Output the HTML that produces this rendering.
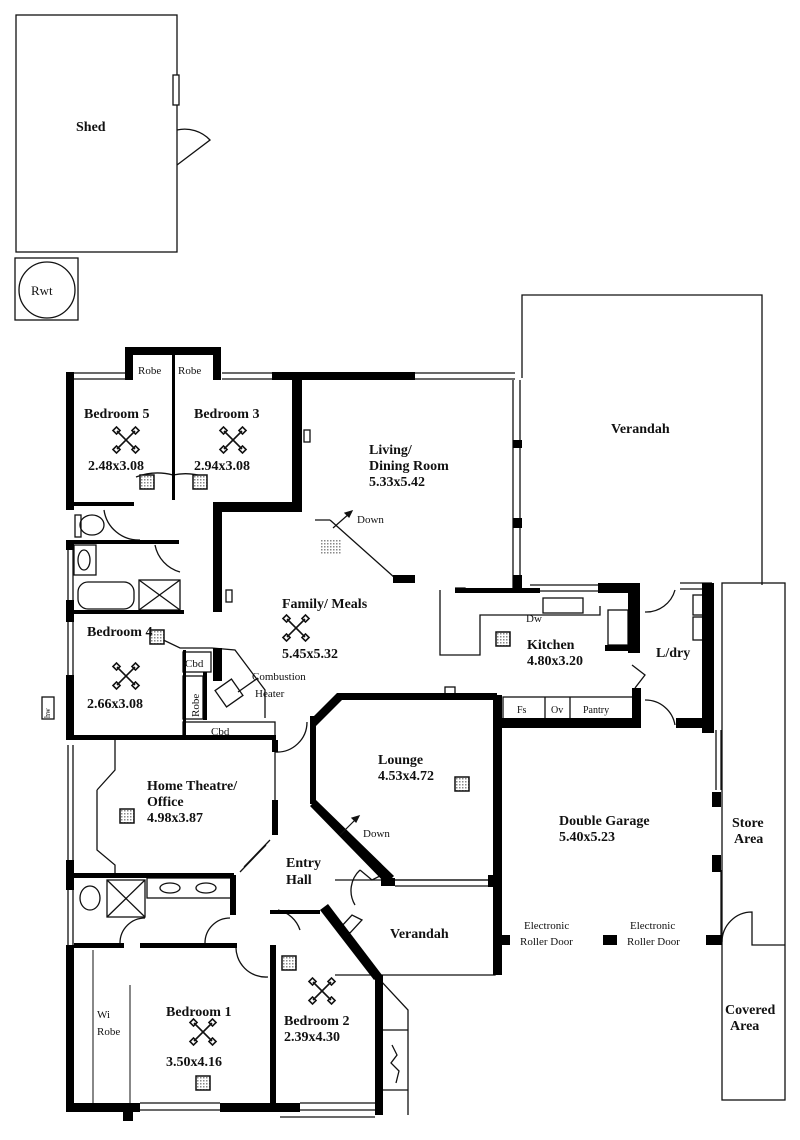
<!DOCTYPE html>
<html><head><meta charset="utf-8"><style>
html,body{margin:0;padding:0;background:#fff}
svg{display:block}
text{font-family:"Liberation Serif",serif;fill:#111}
.b{font-weight:bold;font-size:14px}
.s{font-size:11px}
</style></head><body>
<svg width="800" height="1140" viewBox="0 0 800 1140" xmlns="http://www.w3.org/2000/svg">
<defs>
<pattern id="h" width="3" height="3" patternUnits="userSpaceOnUse"><rect width="3" height="3" fill="#fff"/><rect width="1.5" height="1.5" fill="#888"/></pattern>
<g id="fan" stroke="#111" stroke-width="1.6" fill="none">
<line x1="-9" y1="-9" x2="9" y2="9"/><line x1="9" y1="-9" x2="-9" y2="9"/>
<rect x="-12" y="-12" width="5" height="5" transform="rotate(45 -9.5 -9.5)"/><rect x="7" y="-12" width="5" height="5" transform="rotate(45 9.5 -9.5)"/>
<rect x="-12" y="7" width="5" height="5" transform="rotate(45 -9.5 9.5)"/><rect x="7" y="7" width="5" height="5" transform="rotate(45 9.5 9.5)"/>
</g>
<g id="sq"><rect x="-7" y="-7" width="14" height="14" fill="url(#h)" stroke="#111" stroke-width="1.5"/></g>
</defs>
<g fill="none" stroke="#111" stroke-width="1.3">
<rect x="16" y="15" width="161" height="237"/>
<rect x="173" y="75" width="6" height="30" fill="#fff"/>
<path d="M177 130 A35 35 0 0 1 210 140 L177 165"/>
<rect x="15" y="258" width="63" height="62"/>
<circle cx="47" cy="290" r="28"/>
<path d="M522 378 V295 H762 V585"/>
<rect x="722" y="583" width="63" height="517"/>
<path d="M722 942 A30 30 0 0 1 752 912 V945 H785"/>
<path d="M380 980 L408 1010 V1115 M380 1030 H408 M380 1090 H408"/>
<path d="M392 1045 l5 10 -6 8 8 8 -3 12"/>
<path d="M440 590 V655 H480 V615 H600 V606 M455 588 H465 V590"/>
<rect x="543" y="598" width="40" height="15"/>
<rect x="608" y="610" width="20" height="35"/>
<rect x="693" y="595" width="19" height="20"/><rect x="693" y="617" width="19" height="23"/>
<path d="M645 612 A30 30 0 0 0 675 590"/>
<path d="M645 700 A30 30 0 0 1 675 725"/>
<path d="M632 665 L645 675 L635 688"/>
<path d="M315 520 L330 520 M330 520 L395 578"/>
<path d="M104 510 A35 35 0 0 0 140 540"/>
<path d="M155 545 A35 35 0 0 0 180 572"/>
<path d="M136 477 A60 60 0 0 1 173 475 A60 60 0 0 1 205 477"/>
<path d="M153 635 L180 648 L212 648 L235 650 L265 690 L265 718"/>
<path d="M275 752 A30 30 0 0 0 307 722"/>
<path d="M120 943 A25 25 0 0 1 145 918"/>
<path d="M205 943 A25 25 0 0 1 230 918"/>
<path d="M236 945 A30 30 0 0 0 268 977"/>
<path d="M278 910 A30 30 0 0 1 300 930"/>
<path d="M360 870 A28 28 0 0 0 355 905 M360 870 L372 880 L382 875"/>
<path d="M340 928 L352 915 L362 920 L350 933 Z"/>
<path d="M244 867 L270 840 M240 872 L266 845"/>
<path d="M97 790 L115 770 V740 M97 790 V850 L115 865 V875"/>
<path d="M93 950 V1103 M130 985 V1103" stroke-width="1"/>
<ellipse cx="92" cy="525" rx="12" ry="10"/>
<rect x="75" y="515" width="6" height="22"/>
<rect x="74" y="545" width="22" height="30"/><ellipse cx="84" cy="560" rx="6" ry="10"/>
<rect x="78" y="582" width="56" height="27" rx="10"/>
<rect x="139" y="580" width="41" height="30"/><path d="M139 580 L180 610 M180 580 L139 610"/>
<ellipse cx="90" cy="898" rx="10" ry="12"/>
<rect x="107" y="880" width="38" height="37"/><path d="M107 880 L145 917 M145 880 L107 917"/>
<rect x="147" y="878" width="85" height="20"/>
<ellipse cx="170" cy="888" rx="10" ry="5"/><ellipse cx="206" cy="888" rx="10" ry="5"/>
<rect x="183" y="652" width="28" height="20"/><rect x="183" y="676" width="20" height="43"/>
<rect x="183" y="722" width="92" height="15"/>
<rect x="219" y="683" width="20" height="20" transform="rotate(-35 229 693)"/>
<path d="M238 692 L258 678"/>
<rect x="503" y="697" width="134" height="22"/><path d="M545 697 V719 M570 697 V719"/>
<path d="M74 373 H125 M74 379 H125 M222 373 H272 M222 379 H272 M415 373 H515 M415 379 H515"/>
<path d="M513 380 V590 M520 380 V590" />
<path d="M530 585 H630 M530 591 H630 M680 583 H712 M680 589 H712"/>
<path d="M68 540 V740 M73 540 V740 M68 745 V1100 M73 745 V1100"/>
<path d="M716 730 V790 M721 730 V790 M721 870 V935"/>
<path d="M395 880 H495 M395 886 H495 M140 1103 H220 M140 1110 H220 M300 1103 H375 M300 1110 H375 M280 1117 H375"/>
<path d="M335 880 L495 880 V975 H335"/>
<path d="M275 752 V800"/>
<rect x="42" y="697" width="12" height="22"/>
<rect x="304" y="430" width="6" height="12"/><rect x="226" y="590" width="6" height="12"/>
<rect x="445" y="687" width="10" height="7"/>
</g>
<g fill="#000">
<rect x="66" y="372" width="8" height="138"/>
<rect x="66" y="540" width="8" height="10"/>
<rect x="66" y="600" width="8" height="22"/>
<rect x="66" y="675" width="8" height="65"/>
<rect x="66" y="860" width="8" height="30"/>
<rect x="66" y="945" width="8" height="167"/>
<rect x="125" y="347" width="96" height="8"/><rect x="125" y="347" width="8" height="33"/><rect x="213" y="347" width="8" height="33"/>
<rect x="172" y="355" width="3" height="145"/>
<rect x="272" y="372" width="143" height="8"/>
<rect x="292" y="380" width="10" height="125"/>
<rect x="213" y="502" width="89" height="10"/>
<rect x="74" y="502" width="60" height="4"/>
<rect x="213" y="502" width="9" height="110"/>
<rect x="74" y="540" width="105" height="4"/>
<rect x="74" y="610" width="110" height="4"/>
<rect x="393" y="575" width="22" height="8"/>
<rect x="513" y="440" width="9" height="8"/><rect x="513" y="518" width="9" height="10"/><rect x="513" y="575" width="9" height="15"/>
<rect x="455" y="588" width="85" height="5"/>
<rect x="598" y="583" width="40" height="10"/>
<rect x="628" y="583" width="12" height="70"/>
<rect x="605" y="645" width="35" height="6"/>
<rect x="702" y="583" width="12" height="150"/>
<rect x="632" y="688" width="9" height="40"/>
<rect x="493" y="718" width="148" height="10"/>
<rect x="676" y="718" width="38" height="10"/>
<rect x="213" y="648" width="9" height="33"/>
<rect x="203" y="672" width="4" height="48"/>
<rect x="74" y="735" width="202" height="5"/>
<rect x="183" y="650" width="3" height="90"/>
<rect x="272" y="740" width="6" height="12"/>
<rect x="272" y="800" width="6" height="35"/>
<rect x="493" y="695" width="9" height="250"/>
<rect x="493" y="945" width="9" height="30"/>
<rect x="495" y="935" width="15" height="10"/><rect x="603" y="935" width="14" height="10"/><rect x="706" y="935" width="16" height="10"/>
<rect x="712" y="792" width="9" height="15"/><rect x="712" y="855" width="9" height="17"/>
<rect x="74" y="873" width="160" height="5"/>
<rect x="230" y="875" width="6" height="40"/>
<rect x="74" y="943" width="50" height="5"/><rect x="140" y="943" width="97" height="5"/>
<rect x="270" y="945" width="6" height="166"/>
<rect x="270" y="910" width="50" height="4"/>
<rect x="66" y="1103" width="74" height="9"/><rect x="123" y="1103" width="10" height="18"/><rect x="220" y="1103" width="80" height="9"/>
<rect x="375" y="975" width="8" height="137"/>
<rect x="375" y="1103" width="8" height="12"/>
<polygon points="316,800 310,806 386,884 394,876"/>
<polygon points="310,720 316,714 337,693 343,699 316,726"/>
<rect x="337" y="693" width="160" height="7"/>
<rect x="310" y="716" width="6" height="88"/>
<polygon points="320,910 328,904 382,975 374,980"/>
<rect x="381" y="878" width="14" height="8"/>
<rect x="488" y="875" width="9" height="12"/>
<rect x="505" y="720" width="9" height="4"/>
</g>
<g stroke="#111" stroke-width="1.2" fill="#111">
<line x1="333" y1="528" x2="350" y2="513"/><polygon points="352,511 345,513 349,517"/>
<line x1="340" y1="835" x2="357" y2="818"/><polygon points="359,816 352,818 356,822"/>
</g>
<use href="#fan" x="126" y="440"/><use href="#fan" x="233" y="440"/><use href="#fan" x="296" y="628"/>
<use href="#fan" x="126" y="676"/><use href="#fan" x="322" y="991"/><use href="#fan" x="203" y="1032"/>
<use href="#sq" x="147" y="482"/><use href="#sq" x="200" y="482"/><use href="#sq" x="157" y="637"/>
<use href="#sq" x="127" y="816"/><use href="#sq" x="462" y="784"/><use href="#sq" x="289" y="963"/>
<use href="#sq" x="203" y="1083"/><use href="#sq" x="503" y="639"/>
<rect x="320" y="540" width="22" height="14" fill="url(#h)"/>
<text x="76" y="131" class="b">Shed</text>
<text x="31" y="295" font-size="13">Rwt</text>
<text x="138" y="374" font-size="11">Robe</text><text x="178" y="374" font-size="11">Robe</text>
<text x="84" y="418" class="b">Bedroom 5</text><text x="88" y="470" class="b">2.48x3.08</text>
<text x="194" y="418" class="b">Bedroom 3</text><text x="194" y="470" class="b">2.94x3.08</text>
<text x="369" y="454" class="b">Living/</text><text x="369" y="470" class="b">Dining Room</text><text x="369" y="486" class="b">5.33x5.42</text>
<text x="357" y="523" class="s">Down</text>
<text x="611" y="433" class="b">Verandah</text>
<text x="282" y="608" class="b">Family/ Meals</text><text x="282" y="658" class="b">5.45x5.32</text>
<text x="526" y="622" font-size="11">Dw</text>
<text x="527" y="649" class="b">Kitchen</text><text x="527" y="665" class="b">4.80x3.20</text>
<text x="656" y="657" class="b">L/dry</text>
<text x="87" y="636" class="b">Bedroom 4</text><text x="87" y="708" class="b">2.66x3.08</text>
<text x="185" y="667" font-size="11">Cbd</text>
<text x="199" y="717" font-size="11" transform="rotate(-90 199 717)">Robe</text>
<text x="211" y="735" font-size="11">Cbd</text>
<text x="252" y="680" class="s">Combustion</text><text x="255" y="697" class="s">Heater</text>
<text x="50" y="718" font-size="8" transform="rotate(-90 50 718)">hw</text>
<text x="517" y="713" font-size="10">Fs</text><text x="551" y="713" font-size="10">Ov</text><text x="583" y="713" font-size="10">Pantry</text>
<text x="378" y="764" class="b">Lounge</text><text x="378" y="780" class="b">4.53x4.72</text>
<text x="147" y="790" class="b">Home Theatre/</text><text x="147" y="806" class="b">Office</text><text x="147" y="822" class="b">4.98x3.87</text>
<text x="363" y="837" class="s">Down</text>
<text x="559" y="825" class="b">Double Garage</text><text x="559" y="841" class="b">5.40x5.23</text>
<text x="732" y="827" class="b">Store</text><text x="734" y="843" class="b">Area</text>
<text x="286" y="867" class="b">Entry</text><text x="286" y="884" class="b">Hall</text>
<text x="390" y="938" class="b">Verandah</text>
<text x="524" y="929" class="s">Electronic</text><text x="520" y="945" class="s">Roller Door</text>
<text x="630" y="929" class="s">Electronic</text><text x="627" y="945" class="s">Roller Door</text>
<text x="166" y="1016" class="b">Bedroom 1</text><text x="166" y="1066" class="b">3.50x4.16</text>
<text x="284" y="1025" class="b">Bedroom 2</text><text x="284" y="1041" class="b">2.39x4.30</text>
<text x="97" y="1018" class="s">Wi</text><text x="97" y="1035" class="s">Robe</text>
<text x="725" y="1014" class="b">Covered</text><text x="730" y="1030" class="b">Area</text>
</svg>
</body></html>
